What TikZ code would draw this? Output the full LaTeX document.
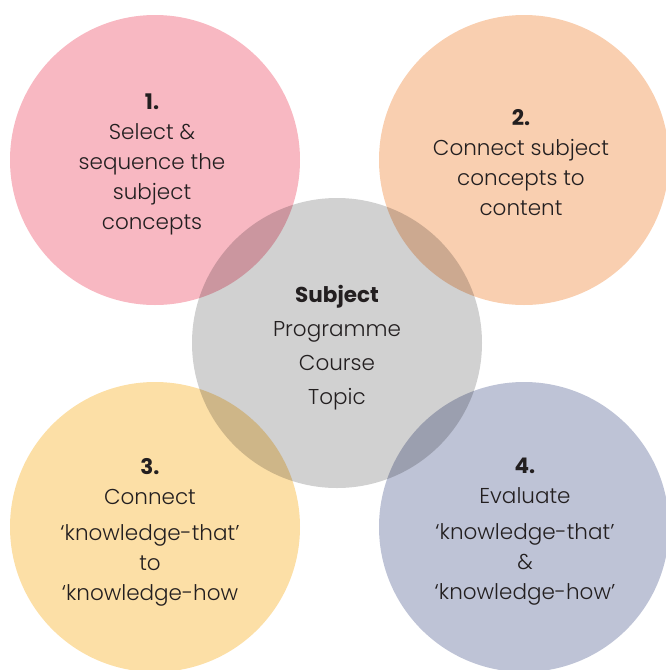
\documentclass[tikz,border=0pt]{standalone}
\usepackage{fontspec}
\setmainfont{Poppins}[UprightFont=* Light,BoldFont=* Bold]
\definecolor{cpink}{RGB}{248,184,194}
\definecolor{corange}{RGB}{249,207,176}
\definecolor{cgray}{RGB}{209,209,209}
\definecolor{cyellow}{RGB}{252,223,166}
\definecolor{cblue}{RGB}{190,195,214}
\definecolor{ctext}{RGB}{35,31,32}
\begin{document}
\begin{tikzpicture}[x=1pt,y=-1pt,
  disc/.style={circle,minimum size=290pt,inner sep=0pt,draw=none},
  lbl/.style={align=center,text=ctext,font=\fontsize{21.5}{30}\selectfont},
  clbl/.style={align=center,text=ctext,font=\fontsize{21.5}{34}\selectfont}]
\useasboundingbox (0,0) rectangle (665,670);
\begin{scope}[blend group=multiply]
\node[disc,fill=cpink]   (c1) at (155,160) {};
\node[disc,fill=corange] (c2) at (524,160) {};
\node[disc,fill=cyellow] (c3) at (155,527) {};
\node[disc,fill=cblue]   (c4) at (524,527) {};
\node[disc,fill=cgray]   (c0) at (337,343) {};
\end{scope}
\node[lbl] (t1) at (152,164) {\textbf{1.}\\Select \&\\sequence the\\subject\\concepts};
\node[lbl] (t2) at (521,163) {\textbf{2.}\\Connect subject\\concepts to\\content};
\node[clbl] (t0) at (337,348) {\textbf{Subject}\\Programme\\Course\\Topic};
\node[lbl] (t3) at (150,532) {\textbf{3.}\\Connect\\[6pt]‘knowledge-that’\\to\\‘knowledge-how};
\node[lbl] (t4) at (525,532) {\textbf{4.}\\Evaluate\\[6pt]‘knowledge-that’\\\&\\‘knowledge-how’};
\end{tikzpicture}
\end{document}
